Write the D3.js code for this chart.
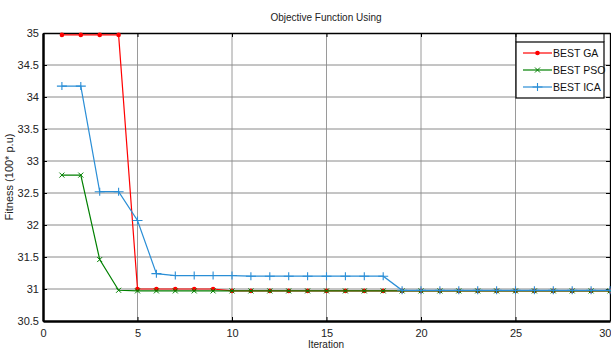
<!DOCTYPE html>
<html>
<head>
<meta charset="utf-8">
<script src="https://cdn.jsdelivr.net/npm/d3@7"></script>
<style>
  body { margin: 0; background: #fff; }
  svg { display: block; font-family: "Liberation Sans", Arial, sans-serif; }
</style>
</head>
<body>
<svg id="chart" width="611" height="350"></svg>
<script>
// iteration 1..30
const iterations = d3.range(1, 31);
const bestGA = [34.97, 34.97, 34.97, 34.97, 31.0, 31.0, 31.0, 31.0, 31.0, 30.97,
    30.97, 30.97, 30.97, 30.97, 30.97, 30.97, 30.97, 30.97, 30.97, 30.97,
    30.97, 30.97, 30.97, 30.97, 30.97, 30.97, 30.97, 30.97, 30.97, 30.97];
const bestPSO = [32.78, 32.78, 31.46, 30.98, 30.97, 30.97, 30.97, 30.97, 30.97, 30.97,
    30.97, 30.97, 30.97, 30.97, 30.97, 30.97, 30.97, 30.97, 30.97, 30.97,
    30.97, 30.97, 30.97, 30.97, 30.97, 30.97, 30.97, 30.97, 30.97, 30.97];
const bestICA = [34.17, 34.17, 32.52, 32.52, 32.07, 31.24, 31.21, 31.21, 31.21, 31.21,
    31.2, 31.2, 31.2, 31.2, 31.2, 31.2, 31.2, 31.2, 30.98, 30.98,
    30.98, 30.98, 30.98, 30.98, 30.98, 30.98, 30.98, 30.98, 30.98, 30.98];
const xTicks = [0, 5, 10, 15, 20, 25, 30];
const yTicks = [30.5, 31, 31.5, 32, 32.5, 33, 33.5, 34, 34.5, 35];
const seriesNames = ['BEST GA', 'BEST PSO', 'BEST ICA'];

const margin = {top: 33, right: 1, bottom: 29, left: 43};
const width = 611, height = 350;
const innerW = width - margin.left - margin.right;
const innerH = height - margin.top - margin.bottom;

const svg = d3.select('#chart');
const g = svg.append('g').attr('transform', `translate(${margin.left},${margin.top})`);

const x = d3.scaleLinear().domain([0, 30]).range([0, innerW]);
const y = d3.scaleLinear().domain([30.5, 35]).range([innerH, 0]);

// grid
g.append('g').selectAll('line').data(xTicks.slice(1, -1)).join('line')
    .attr('x1', d => x(d)).attr('x2', d => x(d))
    .attr('y1', 0).attr('y2', innerH)
    .attr('stroke', '#9a9a9a').attr('stroke-width', 1);
g.append('g').selectAll('line').data(yTicks.slice(1, -1)).join('line')
    .attr('x1', 0).attr('x2', innerW)
    .attr('y1', d => y(d)).attr('y2', d => y(d))
    .attr('stroke', '#8a8a8a').attr('stroke-width', 1);

// axes
const xaxis = g.append('g').attr('transform', `translate(0,${innerH})`)
    .call(d3.axisBottom(x).tickValues(xTicks).tickSize(-4).tickPadding(8).tickSizeOuter(0));
const yaxis = g.append('g')
    .call(d3.axisLeft(y).tickValues(yTicks).tickFormat(d3.format('')).tickSize(-4).tickPadding(4).tickSizeOuter(0));
g.append('g')
    .call(d3.axisTop(x).tickValues(xTicks).tickSize(-4).tickFormat('').tickSizeOuter(0));
g.append('g').attr('transform', `translate(${innerW},0)`)
    .call(d3.axisRight(y).tickValues(yTicks).tickSize(-4).tickFormat('').tickSizeOuter(0));
svg.selectAll('.domain').attr('stroke', '#000').attr('stroke-width', 1.3);
xaxis.select('.domain').attr('stroke-width', 2.5);
yaxis.select('.domain').attr('stroke-width', 2.5);
svg.selectAll('.tick line').attr('stroke', '#000');
svg.selectAll('.tick text').attr('fill', '#222').style('font-size', '11px');
// last x label sits at the right edge, keep it inside the page
xaxis.selectAll('.tick text').filter(d => d === 30).attr('text-anchor', 'end').attr('dx', 1);

// lines
const line = d3.line().x((d, i) => x(iterations[i])).y(d => y(d));
const series = [
    {name: seriesNames[0], values: bestGA, color: '#ff0000', marker: 'dot'},
    {name: seriesNames[1], values: bestPSO, color: '#008000', marker: 'x'},
    {name: seriesNames[2], values: bestICA, color: '#2a8ed6', marker: 'plus'}
];

function drawMarker(sel, kind, color) {
    if (kind === 'dot') {
        sel.append('circle').attr('r', 2.3).attr('fill', color);
    } else if (kind === 'x') {
        sel.append('path').attr('d', 'M-2.5,-2.5L2.5,2.5M-2.5,2.5L2.5,-2.5')
            .attr('stroke', color).attr('stroke-width', 1);
    } else {
        sel.append('path').attr('d', 'M-5,0L5,0M0,-4L0,4')
            .attr('stroke', color).attr('stroke-width', 1.1);
    }
}

series.forEach(s => {
    g.append('path').attr('d', line(s.values))
        .attr('fill', 'none').attr('stroke', s.color).attr('stroke-width', 1.2);
    g.append('g').selectAll('g').data(s.values).join('g')
        .attr('transform', (d, i) => `translate(${x(iterations[i])},${y(d)})`)
        .each(function() { drawMarker(d3.select(this), s.marker, s.color); });
});

// title and labels
svg.append('text').attr('x', 326).attr('y', 21).attr('text-anchor', 'middle')
    .style('font-size', '10px').attr('fill', '#222').text('Objective Function Using');
svg.append('text').attr('x', 326).attr('y', 348).attr('text-anchor', 'middle')
    .style('font-size', '10px').attr('fill', '#222').text('Iteration');
svg.append('text').attr('transform', 'translate(13,177) rotate(-90)').attr('text-anchor', 'middle')
    .style('font-size', '11px').attr('fill', '#222').text('Fitness (100* p.u)');

// legend
const lg = svg.append('g').attr('transform', 'translate(516,42)');
svg.append('path').attr('d', 'M516,33V42M604,33V42').attr('stroke', '#000').attr('stroke-width', 1);
lg.append('rect').attr('width', 88).attr('height', 56)
    .attr('fill', '#fff').attr('stroke', '#000').attr('stroke-width', 1.2);
series.forEach((s, i) => {
    const row = lg.append('g').attr('transform', `translate(0,${11 + i * 17})`);
    row.append('line').attr('x1', 7).attr('x2', 36)
        .attr('stroke', s.color).attr('stroke-width', 1.2);
    drawMarker(row.append('g').attr('transform', 'translate(21.5,0)'), s.marker, s.color);
    row.append('text').attr('x', 37).attr('y', 4).style('font-size', '10.5px')
        .attr('fill', '#111').text(s.name);
});
</script>
</body>
</html>
